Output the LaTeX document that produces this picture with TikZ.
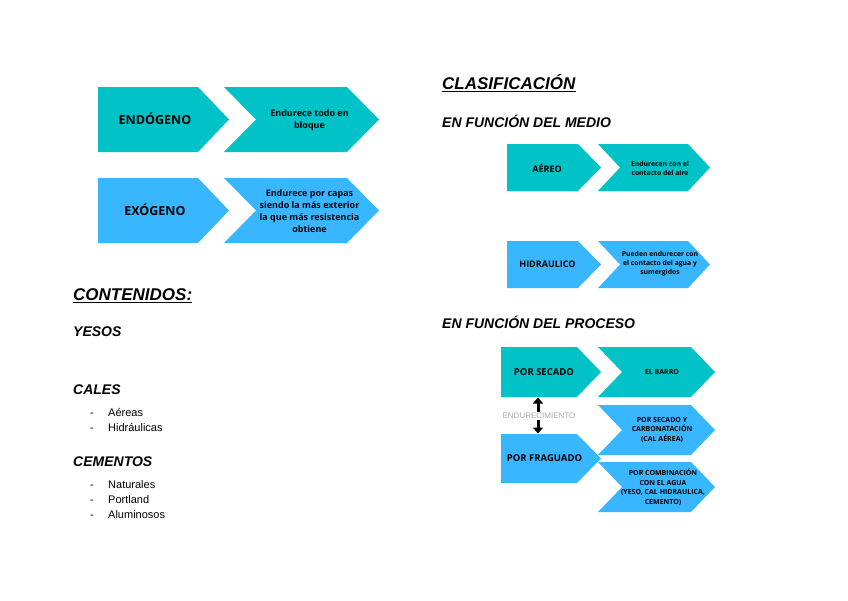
\documentclass[tikz,border=0pt]{standalone}
\usepackage{fontspec}
\setmainfont{Liberation Sans}
\newfontfamily\chevfont{Open Sans}
\usetikzlibrary{arrows.meta}
\definecolor{tealc}{HTML}{00C2C7}
\definecolor{bluec}{HTML}{38B6FF}
\definecolor{grayt}{HTML}{A8A8A8}
% #1 colour, #2 left x, #3 top y, #4 tip x, #5 bottom y, #6 point depth
\newcommand\chevfirst[6]{\fill[#1] (#2,#3) -- ({#4-#6},#3) -- (#4,{(#3+#5)/2}) -- ({#4-#6},#5) -- (#2,#5) -- cycle;}
\newcommand\chevsecond[6]{\fill[#1] (#2,#3) -- ({#4-#6},#3) -- (#4,{(#3+#5)/2}) -- ({#4-#6},#5) -- (#2,#5) -- ({#2+#6},{(#3+#5)/2}) -- cycle;}
\tikzset{
  lbl/.style={inner sep=0pt, align=center, text=black},
  big/.style={lbl, font=\chevfont\bfseries\fontsize{12.5}{14}\selectfont},
  mid/.style={lbl, font=\chevfont\bfseries\fontsize{9}{12}\selectfont},
  midb/.style={lbl, font=\chevfont\bfseries\fontsize{9.5}{12}\selectfont},
  small/.style={lbl, font=\chevfont\bfseries\fontsize{6.8}{9}\selectfont},
  tiny/.style={lbl, font=\chevfont\bfseries\fontsize{7}{9.5}\selectfont},
  head/.style={anchor=base west, inner sep=0pt, font=\bfseries\itshape\fontsize{14}{16}\selectfont},
  title/.style={anchor=base west, inner sep=0pt, font=\bfseries\itshape\fontsize{17}{19}\selectfont},
  item/.style={anchor=base west, inner sep=0pt, font=\fontsize{11}{13}\selectfont},
  uline/.style={line width=1.2pt},
  dblarrow/.style={line width=3pt, -{Triangle[length=6pt,width=10pt]}},
}
\begin{document}
\begin{tikzpicture}[x=1pt,y=-1pt]
\useasboundingbox (0,0) rectangle (848,600);
% Left chevrons
\chevfirst{tealc}{98}{87}{229}{152}{31}
\chevsecond{tealc}{224}{87}{379}{152}{32}
\chevfirst{bluec}{98}{178}{229}{243}{31}
\chevsecond{bluec}{224}{178}{379}{243}{32}
\node[big] (endo) at (155,119) {ENDÓGENO};
\node[mid] (endot) at (309.5,120) {Endurece todo en\\bloque};
\node[big] (exo) at (155,210) {EXÓGENO};
\node[mid] (exot) at (309.5,211) {Endurece por capas\\siendo la más exterior\\la que más resistencia\\obtiene};
% Left text
\node[title] (cont) at (73,300) {CONTENIDOS:};
\draw[uline] ([yshift=-2.5pt]cont.base west) -- ([yshift=-2.5pt]cont.base east);
\node[head] (yesos) at (73,336.5) {YESOS};
\node[head] (cales) at (73,394) {CALES};
\node[item] (d1) at (90,416) {-};
\node[item] (aer) at (108,416) {Aéreas};
\node[item] (d2) at (90,431.5) {-};
\node[item] (hid) at (108,431.5) {Hidráulicas};
\node[head] (cem) at (73,466.5) {CEMENTOS};
\node[item] (d3) at (90,488.5) {-};
\node[item] (nat) at (108,488.5) {Naturales};
\node[item] (d4) at (90,503) {-};
\node[item] (por) at (108,503) {Portland};
\node[item] (d5) at (90,518) {-};
\node[item] (alu) at (108,518) {Aluminosos};
% Right text
\node[title] (clas) at (442,89) {CLASIFICACIÓN};
\draw[uline] ([yshift=-2.5pt]clas.base west) -- ([yshift=-2.5pt]clas.base east);
\node[head] (medio) at (442,127) {EN FUNCIÓN DEL MEDIO};
\node[head] (proc) at (442,328) {EN FUNCIÓN DEL PROCESO};
% Medio chevrons
\chevfirst{tealc}{507}{144}{601}{191}{23}
\chevsecond{tealc}{598}{144}{710}{191}{22}
\chevfirst{bluec}{507}{241}{601}{288}{23}
\chevsecond{bluec}{598}{241}{710}{288}{22}
\node[mid] (aereo) at (547,168) {AÉREO};
\node[small] (aereot) at (660,168.5) {Endurecen con el\\contacto del aire};
\node[mid] (hidr) at (547.5,264) {HIDRAULICO};
\node[small] (hidrt) at (660,264) {Pueden endurecer con\\el contacto del agua y\\sumergidos};
% Proceso chevrons
\chevfirst{tealc}{501}{347}{601}{397}{24}
\chevsecond{tealc}{598}{347}{715}{397}{24}
\chevfirst{bluec}{501}{434}{601}{483}{24}
\chevsecond{bluec}{598}{405}{715}{455}{24}
\chevsecond{bluec}{598}{462}{715}{512}{24}
\node[midb] (secado) at (544,372) {POR SECADO};
\node[tiny] (barro) at (662,372) {EL BARRO};
\node[midb] (frag) at (544.5,458) {POR FRAGUADO};
\node[tiny] (carb) at (662,430) {POR SECADO Y\\CARBONATACIÓN\\(CAL AÉREA)};
\node[tiny] (comb) at (663,487.5) {POR COMBINACIÓN\\CON EL AGUA\\(YESO, CAL HIDRAULICA,\\CEMENTO)};
% Endurecimiento
\coordinate (secbot) at (538,397.5);
\coordinate (fratop) at (538,433.5);
\node[inner sep=0pt, text=grayt, font=\fontsize{8}{9}\selectfont] (endur) at (539,416) {ENDURECIMIENTO};
\draw[dblarrow] ([yshift=1pt]endur.north -| secbot) -- (secbot);
\draw[dblarrow] ([yshift=-1pt]endur.south -| fratop) -- (fratop);
\end{tikzpicture}
\end{document}
